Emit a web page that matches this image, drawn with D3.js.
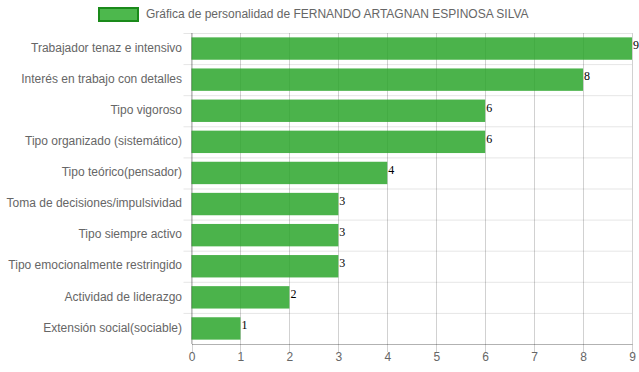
<!DOCTYPE html>
<html><head><meta charset="utf-8">
<script src="https://cdn.jsdelivr.net/npm/d3@7"></script>
<style>body{margin:0;background:#fff}svg{display:block}text{font-family:Arial,"Liberation Sans",Helvetica,sans-serif}</style>
</head><body>
<svg id="c" width="639" height="372"></svg>
<script>
const categories = ["Trabajador tenaz e intensivo","Interés en trabajo con detalles","Tipo vigoroso","Tipo organizado (sistemático)","Tipo teórico(pensador)","Toma de decisiones/impulsividad","Tipo siempre activo","Tipo emocionalmente restringido","Actividad de liderazgo","Extensión social(sociable)"];
const values = [9,8,6,6,4,3,3,3,2,1];
const xTicks = [0,1,2,3,4,5,6,7,8,9];
const seriesLabel = "Gráfica de personalidad de FERNANDO ARTAGNAN ESPINOSA SILVA";

const svg = d3.select("#c");
const m = {l:191.5, r:632, t:33, b:344};
const x = d3.scaleLinear().domain([0,9]).range([m.l,m.r]);
const y = d3.scaleBand().domain(categories).range([m.t,m.b]).paddingInner(0.28).paddingOuter(0.14);
const yb = d3.scaleBand().domain(categories).range([m.t,m.b]);

// horizontal grid (category boundaries)
const hg = svg.append("g");
categories.forEach((c,i)=>{
  hg.append("line").attr("x1",m.l-8).attr("x2",m.r).attr("y1",yb(c)+0.5).attr("y2",yb(c)+0.5)
    .attr("stroke","rgba(0,0,0,0.1)").attr("stroke-width",1);
});
// vertical grid
const vg = svg.append("g");
xTicks.forEach(t=>{
  vg.append("line").attr("x1",Math.round(x(t))+0.5).attr("x2",Math.round(x(t))+0.5).attr("y1",m.t).attr("y2",m.b+8)
    .attr("stroke","rgba(0,0,0,0.18)").attr("stroke-width",1);
});

// bars
svg.append("g").selectAll("rect").data(values).join("rect")
  .attr("x",x(0)).attr("y",(d,i)=>y(categories[i]))
  .attr("width",d=>x(d)-x(0)).attr("height",y.bandwidth())
  .attr("fill","rgba(40,165,40,0.84)");

// value labels
svg.append("g").selectAll("text").data(values).join("text")
  .attr("x",d=>x(d)+1).attr("y",(d,i)=>y(categories[i])+y.bandwidth()/2-2)
  .attr("dominant-baseline","middle")
  .style("font-family","'Liberation Serif','Times New Roman',serif").style("font-size","12px").attr("fill","#000")
  .text(d=>d);

// x axis
const xa = svg.append("g").attr("transform",`translate(0,${m.b})`)
  .call(d3.axisBottom(x).tickValues(xTicks).tickSize(0).tickPadding(8).tickFormat(d3.format("d")));
xa.select(".domain").attr("stroke","rgba(0,0,0,0.3)");
xa.selectAll("text").style("font-size","12px").attr("fill","#666");

// y axis labels
svg.append("g").selectAll("text").data(categories).join("text")
  .attr("x",182).attr("y",c=>y(c)+y.bandwidth()/2)
  .attr("text-anchor","end").attr("dominant-baseline","middle")
  .style("font-size","12px").attr("fill","#666").text(c=>c);
// y axis line
svg.append("line").attr("x1",m.l).attr("x2",m.l).attr("y1",m.t).attr("y2",m.b).attr("stroke","rgba(0,0,0,0.25)");

// legend
svg.append("rect").attr("x",99).attr("y",8).attr("width",39).attr("height",13)
  .attr("fill","#4db84d").attr("stroke","#1a8a1a").attr("stroke-width",2);
svg.append("text").attr("x",146).attr("y",15).attr("dominant-baseline","middle")
  .style("font-size","12px").attr("fill","#666").text(seriesLabel);
</script>
</body></html>
